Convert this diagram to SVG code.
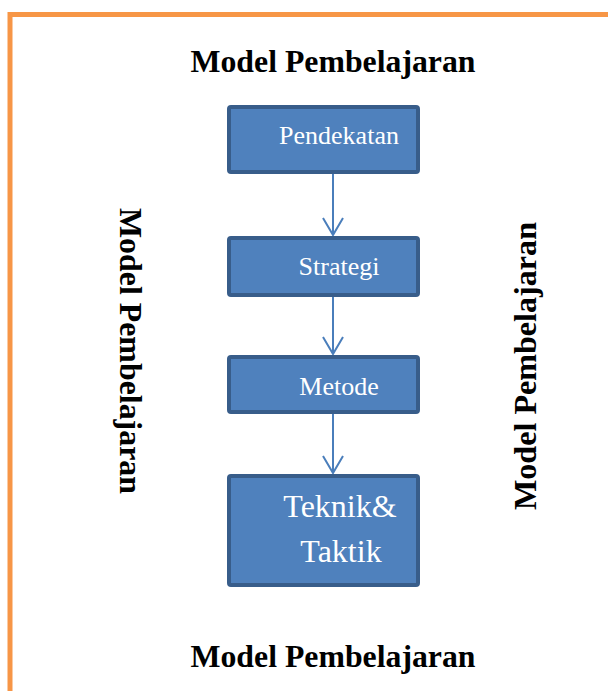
<svg xmlns="http://www.w3.org/2000/svg" width="608" height="691" viewBox="0 0 608 691">
<style>
.title{font-family:"Liberation Serif","Times New Roman",serif;font-weight:bold;font-size:31px;fill:#000;text-anchor:middle}
.box{fill:#4F81BD;stroke:#385D8A;stroke-width:4}
.lbl{font-family:"Liberation Serif","Times New Roman",serif;fill:#fff;text-anchor:middle}
.conn{stroke:#4A7EBB;stroke-width:2;fill:none}
</style>
<defs>
<marker id="arr" markerWidth="24" markerHeight="24" refX="18" refY="11" orient="auto" markerUnits="userSpaceOnUse" viewBox="0 0 24 24">
<path d="M1,1 L18,11 L1,21" fill="none" stroke="#4A7EBB" stroke-width="2"/>
</marker>
</defs>
<rect x="0" y="0" width="608" height="691" fill="#fff"/>
<path d="M10,700 L10,14.5 L620,14.5" fill="none" stroke="#F79646" stroke-width="5"/>
<text class="title" x="333" y="72" textLength="285" lengthAdjust="spacingAndGlyphs">Model Pembelajaran</text>
<text class="title" x="333" y="667" textLength="285" lengthAdjust="spacingAndGlyphs">Model Pembelajaran</text>
<text class="title" transform="translate(120,351) rotate(90)" x="0" y="0" textLength="286" lengthAdjust="spacingAndGlyphs">Model Pembelajaran</text>
<text class="title" transform="translate(536,366) rotate(-90)" x="0" y="0" textLength="288" lengthAdjust="spacingAndGlyphs">Model Pembelajaran</text>
<g id="connectors">
<line class="conn" x1="333" y1="173" x2="333" y2="235" marker-end="url(#arr)"/>
<line class="conn" x1="333" y1="296" x2="333" y2="354" marker-end="url(#arr)"/>
<line class="conn" x1="333" y1="413" x2="333" y2="473" marker-end="url(#arr)"/>
</g>
<g id="n1"><rect class="box" x="229" y="107" width="189" height="65" rx="2"/><text class="lbl" x="339" y="144" font-size="26">Pendekatan</text></g>
<g id="n2"><rect class="box" x="229" y="238" width="189" height="57" rx="2"/><text class="lbl" x="339" y="275" font-size="26">Strategi</text></g>
<g id="n3"><rect class="box" x="229" y="357" width="189" height="55" rx="2"/><text class="lbl" x="339" y="395" font-size="26">Metode</text></g>
<g id="n4"><rect class="box" x="229" y="476" width="189" height="109" rx="2"/><text class="lbl" x="340" y="517" font-size="32">Teknik&amp;</text><text class="lbl" x="341" y="562" font-size="32">Taktik</text></g>
</svg>
